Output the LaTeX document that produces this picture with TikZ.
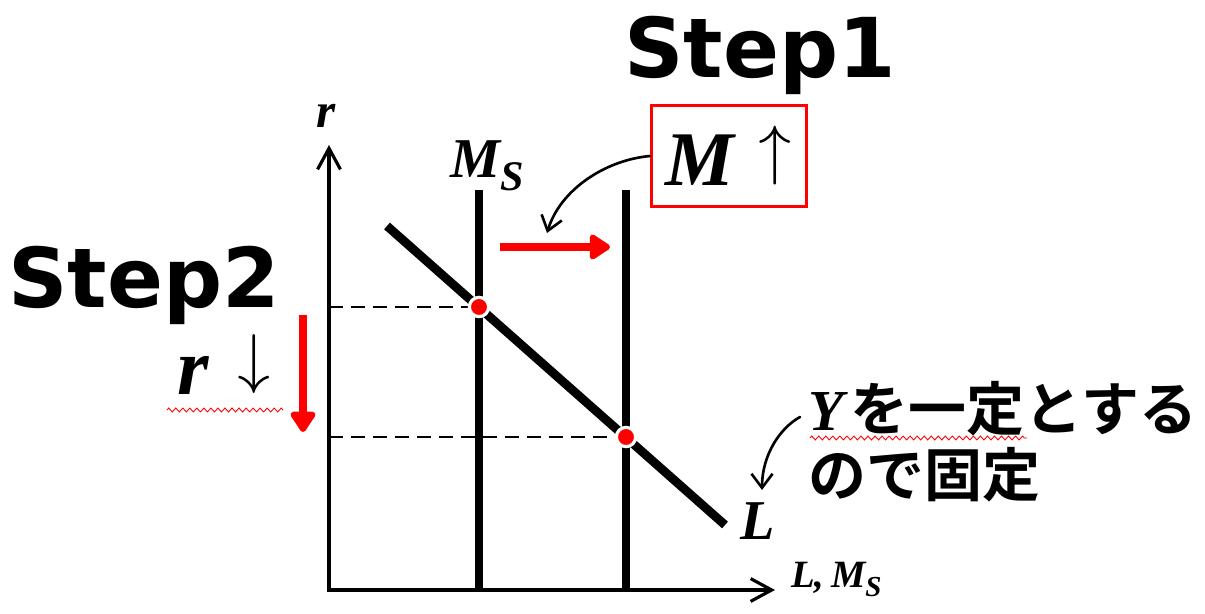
\documentclass[tikz,border=0pt]{standalone}
\usepackage{fontspec}
\usepackage{unicode-math}
\setmathfont{Latin Modern Math}
\newfontfamily\stepfont{DejaVu Sans}
\newfontfamily\varfont{Liberation Serif}
\newfontfamily\jpfont{Noto Sans CJK JP}[BoldFont={Noto Sans CJK JP Bold}]
\usepackage{tikz}
\usetikzlibrary{arrows.meta, positioning, calc, decorations.pathmorphing}
\definecolor{shiftred}{RGB}{255, 0, 0}
\newcommand{\fsz}[1]{\fontsize{#1}{#1}\selectfont}
\newcommand{\mvar}[1]{{\varfont\bfseries\itshape #1}}
\newcommand{\msub}[2]{\mvar{#1}\raisebox{-0.22em}{\scalebox{0.75}{\mvar{#2}}}}
\newcommand{\marrow}[1]{\raisebox{0.17em}{\fsz{38pt}$#1$}}

\begin{document}
\begin{tikzpicture}[x=0.02cm, y=-0.02cm,
    axisline/.style={line width=1.8pt, line join=miter},
    bendarrow/.style={line width=1.5pt, line cap=round,
        -{Straight Barb[length=8pt, width=12pt]}},
    shiftarrow/.style={shiftred, line width=4.8pt,
        -{Triangle[length=13pt, width=16pt, round]}},
    curveline/.style={line width=5pt},
    guideline/.style={line width=1.5pt, dash pattern=on 8pt off 4.5pt},
    eqpoint/.style={circle, fill=shiftred, draw=white, line width=1.8pt,
        minimum size=11pt, inner sep=0pt},
    wavy/.style={shiftred, line width=0.5pt, decorate,
        decoration={zigzag, segment length=4pt, amplitude=1.1pt}},
    steplabel/.style={font=\stepfont\bfseries\fsz{47pt}, inner sep=0pt, anchor=base},
    mathlabel/.style={inner sep=0pt, anchor=base}]
    \useasboundingbox (0,0) rectangle (1205,614);
    % Axes
    \coordinate (O) at (329,590);
    \coordinate (ytip) at (329,145);
    \coordinate (xtip) at (775,590);
    \draw[axisline, {Straight Barb[length=12pt, width=13pt]}-{Straight Barb[length=12pt, width=13pt]}]
        (ytip) -- (O) -- (xtip);
    \node[mathlabel, font=\fsz{28pt}] (rlab) at (326,128) {\mvar{r}};
    \node[mathlabel, anchor=base west, font=\fsz{22pt}] (xlab) at (791,588)
        {\mvar{L,}\,\msub{M}{S}};
    % Money supply (before and after) and money demand
    \coordinate (ms1top) at (479,190);
    \coordinate (ms2top) at (626,190);
    \coordinate (ltop) at (387,226);
    \coordinate (lbot) at (725,525);
    \foreach \c in {ms1top, ms2top} {
        \draw[curveline] (\c) -- (\c |- O);
    }
    \draw[curveline] (ltop) -- (lbot);
    \node[mathlabel, font=\fsz{32pt}] (mslab) at (487,178) {\msub{M}{S}};
    \node[mathlabel, font=\fsz{32pt}] (llab) at (758,540) {\mvar{L}};
    % Equilibria
    \coordinate (e1) at (479,307);
    \coordinate (e2) at (626,437);
    \foreach \e in {e1, e2} {
        \draw[guideline] (O |- \e) -- (\e);
    }
    \node[eqpoint] (E1) at (e1) {};
    \node[eqpoint] (E2) at (e2) {};
    % Step 1: money supply rises
    \node[steplabel] (step1) at (760,78) {Step1};
    \node[draw=shiftred, line width=1.7pt, minimum width=88pt, minimum height=57pt,
        inner sep=0pt, font=\fsz{44pt}] (mbox) at (729,156)
        {\mvar{M}\hspace{14pt}\marrow{\uparrow}};
    \coordinate (shiftstart) at (500,247);
    \coordinate (shiftend) at (610,247);
    \draw[shiftarrow] (shiftstart) -- (shiftend);
    \coordinate (bendend) at (547,233);
    \draw[bendarrow] (mbox.west) .. controls (605,160) and (560,190) .. (bendend);
    % Step 2: interest rate falls
    \node[steplabel] (step2) at (144,308) {Step2};
    \node[mathlabel, font=\fsz{46pt}] (rdown) at (224,395)
        {\mvar{r}\hspace{16pt}\marrow{\downarrow}};
    \draw[wavy] (167,410) -- (283,410);
    \coordinate (dropstart) at (303,315);
    \coordinate (dropend) at (303,432);
    \draw[shiftarrow] (dropstart) -- (dropend);
    % Note on fixed Y
    \node[anchor=base west, inner sep=0pt, align=left,
        font=\jpfont\bfseries\fontsize{33pt}{38pt}\selectfont] (ynote) at (808,497)
        {\mvar{Y}\hspace{4pt}を一定とする\\ので固定};
    \draw[wavy] (810,438) -- (1027,438);
    \coordinate (notestart) at (800,417);
    \coordinate (noteend) at (762,490);
    \draw[bendarrow] (notestart) .. controls (780,428) and (762,455) .. (noteend);
\end{tikzpicture}
\end{document}
